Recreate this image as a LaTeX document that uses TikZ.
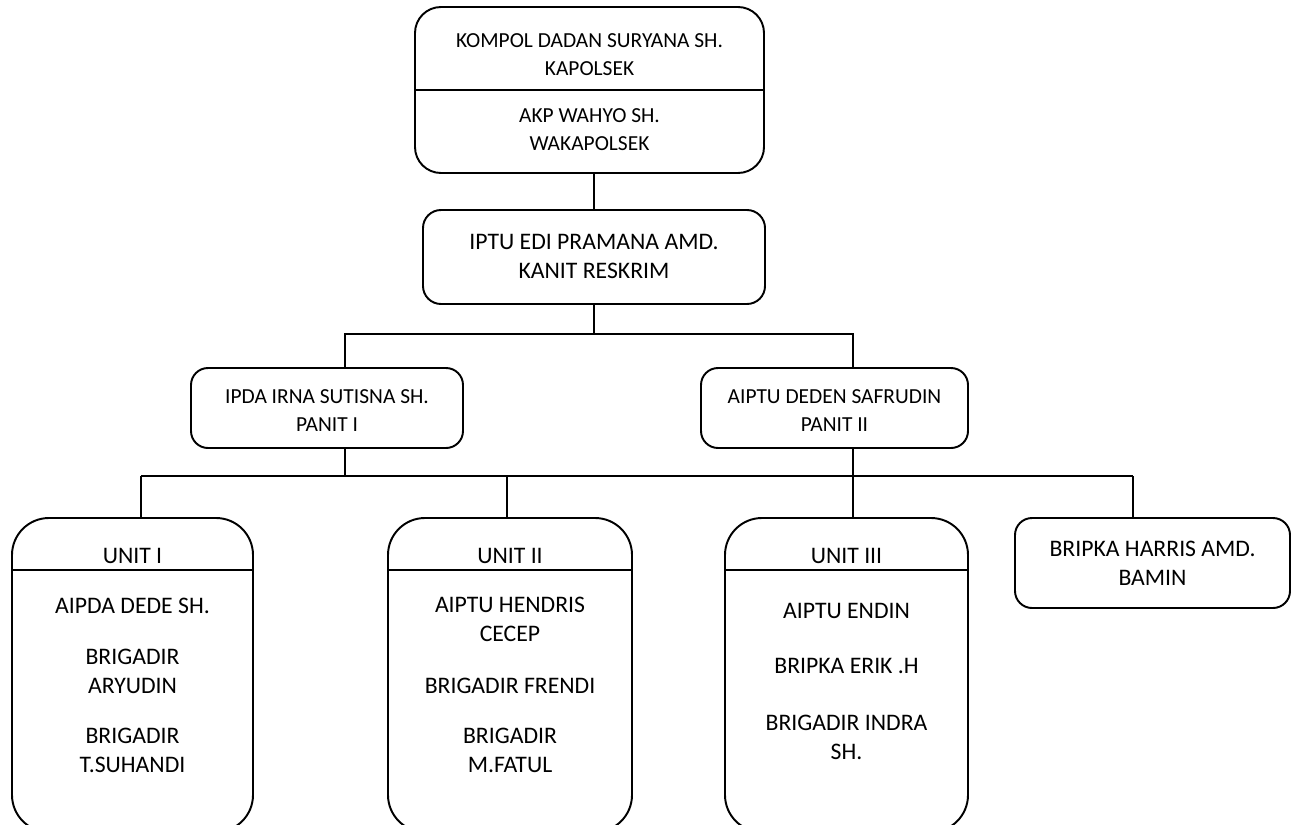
\documentclass[tikz,border=0pt]{standalone}
\usepackage{fontspec}
\setmainfont{Carlito}
\usetikzlibrary{positioning, fit}
\tikzset{
  orgbox/.style={draw, line width=1.1pt, rounded corners=#1, inner sep=0pt},
  orgbox/.default=0.34cm,
  smalltxt/.style={anchor=base, align=center, inner sep=0pt, font=\fontsize{12.2}{15.4}\selectfont},
  bigtxt/.style={anchor=base, align=center, inner sep=0pt, font=\fontsize{13.5}{16.5}\selectfont},
  link/.style={line width=1.1pt},
}

\begin{document}
\begin{tikzpicture}[x=0.02cm, y=-0.02cm]
  \useasboundingbox (0,0) rectangle (1299,825);
  \clip (0,0) rectangle (1299,825);
  % Pimpinan (base = baris terakhir)
  \node[orgbox=0.52cm, fit={(415,7) (764,173)}] (kapolsek) {};
  \draw[link] (kapolsek.west |- 0,90) -- (kapolsek.east |- 0,90);
  \node[smalltxt] (kapolsekTxt) at (589.5,75) {KOMPOL DADAN SURYANA SH.\\KAPOLSEK};
  \node[smalltxt] (wakaTxt) at (589.5,150) {AKP WAHYO SH.\\WAKAPOLSEK};
  % Kanit dan Panit
  \node[orgbox=0.36cm, fit={(423,210) (765,304)}] (kanit) {};
  \node[bigtxt] (kanitTxt) at (594,278) {IPTU EDI PRAMANA AMD.\\KANIT RESKRIM};
  \node[orgbox, fit={(191,368) (463,448)}] (panit1) {};
  \node[smalltxt] (panit1Txt) at (327,431) {IPDA IRNA SUTISNA SH.\\PANIT I};
  \node[orgbox, fit={(701,368) (968,448)}] (panit2) {};
  \node[smalltxt] (panit2Txt) at (834.5,431) {AIPTU DEDEN SAFRUDIN\\PANIT II};
  % Unit (terpotong di bawah)
  \foreach \nm/\l/\r/\hd in {unit1/12/253/UNIT I, unit2/388/632/UNIT II, unit3/725/968/UNIT III} {
    \node[orgbox=0.74cm, fit={(\l,518) (\r,832)}] (\nm) {};
    \draw[link] (\nm.west |- 0,570) -- (\nm.east |- 0,570);
    \node[bigtxt] (\nm Hd) at (\nm.center |- 0,563) {\hd};
  }
  \node[orgbox, fit={(1015,518) (1290,608)}] (bamin) {};
  \node[bigtxt] (baminTxt) at (1152.5,585) {BRIPKA HARRIS AMD.\\BAMIN};
  % Anggota
  \node[bigtxt] (u1a) at (132.5,613) {AIPDA DEDE SH.};
  \node[bigtxt] (u1b) at (132.5,693) {BRIGADIR\\ARYUDIN};
  \node[bigtxt] (u1c) at (132.5,772) {BRIGADIR\\T.SUHANDI};
  \node[bigtxt] (u2a) at (510,641) {AIPTU HENDRIS\\CECEP};
  \node[bigtxt] (u2b) at (510,693) {BRIGADIR FRENDI};
  \node[bigtxt] (u2c) at (510,772) {BRIGADIR\\M.FATUL};
  \node[bigtxt] (u3a) at (846.5,618) {AIPTU ENDIN};
  \node[bigtxt] (u3b) at (846.5,673) {BRIPKA ERIK .H};
  \node[bigtxt] (u3c) at (846.5,759) {BRIGADIR INDRA\\SH.};
  % Garis komando
  \coordinate (bus1) at (594,334);
  \foreach \i/\x in {1/141, 2/507, 3/853, 4/1133} {
    \coordinate (d\i) at (\x,476);
  }
  \draw[link] (kapolsek.south -| kanit.north) -- (kanit.north);
  \draw[link] (kanit.south) -- (bus1);
  \draw[link] (panit1.north -| 345,0) |- (bus1) -| (panit2.north -| d3);
  \draw[link] (panit1.south -| 345,0) -- (345,476);
  \draw[link] (panit2.south -| d3) -- (d3);
  \draw[link] (d1) -- (d4);
  \foreach \u/\d in {unit1/d1, unit2/d2, unit3/d3, bamin/d4} {
    \draw[link] (\d) -- (\u.north -| \d);
  }
\end{tikzpicture}
\end{document}
